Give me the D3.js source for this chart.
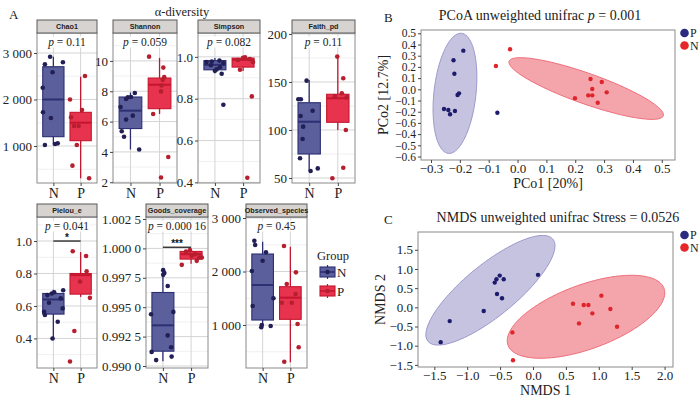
<!DOCTYPE html>
<html>
<head>
<meta charset="utf-8">
<script src="https://cdn.jsdelivr.net/npm/d3@7"></script>
<style>
  body { margin: 0; background: #fff; }
  svg { display: block; font-family: "Liberation Serif", "Times New Roman", serif; }
</style>
</head>
<body>
<svg id="fig" width="700" height="397"></svg>
<script>
// ---------- data: panel A (alpha diversity) ----------
const groups = ["N", "P"];
const metricNames = ["Chao1", "Shannon", "Simpson", "Faith_pd", "Pielou_e", "Goods_coverage", "Observed_species"];
const pValues = ["0.11", "0.059", "0.082", "0.11", "0.041", "0.000 16", "0.45"];

// box stats: [lower whisker, q1, median, q3, upper whisker]
const chao1BoxN = [1030, 1200, 2000, 2705, 2920];
const chao1BoxP = [305, 1114, 1501, 1724, 2490];
const shannonBoxN = [4.16, 5.54, 6.72, 7.62, 7.92];
const shannonBoxP = [6.5, 6.85, 8.43, 8.87, 10.2];
const simpsonBoxN = [0.922, 0.938, 0.962, 0.982, 0.994];
const simpsonBoxP = [0.932, 0.951, 0.986, 0.994, 0.998];
const faithBoxN = [57.3, 75, 108.6, 128.4, 152];
const faithBoxP = [100, 108, 133, 137.2, 176];
const pielouBoxN = [0.40, 0.550, 0.640, 0.677, 0.70];
const pielouBoxP = [0.656, 0.673, 0.79, 0.80, 0.932];
const goodsBoxN = [0.99041, 0.99126, 0.99346, 0.99625, 0.99815];
const goodsBoxP = [0.9987, 0.99909, 0.99951, 0.99974, 0.9999];
const observedBoxN = [970, 1093, 1748, 2327, 2557];
const observedBoxP = [303, 1106, 1511, 1716, 2463];

// jittered samples: [group position (1 = N, 2 = P), value]
const chao1PtsN = [[0.88, 2920], [0.69, 2757], [1.35, 2800], [0.97, 2585], [0.61, 2254], [0.62, 1724], [0.91, 1602], [0.69, 1020], [1.06, 1043], [1.16, 1057]];
const chao1PtsP = [[2.16, 2505], [1.61, 2000], [1.65, 1617], [2.05, 1774], [1.76, 1430], [1.93, 1430], [1.86, 1021], [1.70, 577], [2.31, 305]];
const shannonPtsN = [[0.66, 6.96], [0.85, 7.49], [1.02, 7.62], [1.15, 7.88], [0.85, 6.13], [1.08, 6.39], [0.70, 5.36], [0.78, 5.0], [1.30, 4.16], [0.91, 7.6]];
const shannonPtsP = [[1.64, 10.28], [2.13, 9.56], [2.16, 8.93], [2.07, 8.38], [2.05, 7.99], [1.78, 6.5], [2.30, 3.66], [2.05, 2.31], [2.11, 8.75]];
const simpsonPtsN = [[0.89, 0.978], [1.16, 0.982], [1.30, 0.970], [0.86, 0.96], [1.06, 0.94], [1.0, 0.933], [1.24, 0.919], [1.30, 0.771], [0.70, 0.975], [1.18, 0.95]];
const simpsonPtsP = [[2.07, 0.998], [2.24, 0.99], [1.89, 0.938], [2.31, 0.811], [2.15, 0.422], [1.82, 0.985], [2.35, 0.975], [2.0, 0.995]];
const faithPtsN = [[0.91, 151.4], [0.62, 132], [0.71, 132], [0.70, 114.6], [0.79, 103.5], [1.12, 120], [0.77, 90.6], [0.68, 70.5], [1.05, 57.3], [1.30, 60]];
const faithPtsP = [[1.98, 176.4], [2.19, 153.9], [2.14, 138.2], [2.31, 134], [2.28, 100], [2.19, 60.7], [1.81, 49.7], [1.90, 135]];
const pielouPtsN = [[0.66, 0.564], [0.69, 0.544], [0.84, 0.62], [0.78, 0.667], [0.94, 0.677], [1.03, 0.685], [1.34, 0.585], [1.36, 0.697], [1.27, 0.647], [1.16, 0.503], [0.97, 0.40]];
const pielouPtsP = [[1.71, 0.937], [2.2, 0.908], [2.22, 0.814], [1.98, 0.75], [2.34, 0.65], [1.77, 0.446], [1.61, 0.258]];
const goodsPtsN = [[1.01, 0.99815], [1.05, 0.9979], [1.01, 0.99775], [1.17, 0.9968], [0.58, 0.9944], [1.37, 0.9946], [1.17, 0.9926], [1.29, 0.9916], [0.60, 0.9912], [0.76, 0.9905], [1.31, 0.9908]];
const goodsPtsP = [[1.67, 0.9986], [1.82, 0.99974], [1.96, 0.99985], [2.14, 0.9995], [2.29, 0.99923], [2.20, 0.99894], [2.38, 0.99923], [2.02, 0.99937]];
const observedPtsN = [[0.70, 2576], [0.73, 2495], [1.12, 2359], [1.0, 2202], [0.61, 2009], [0.64, 1355], [1.39, 1499], [0.97, 1000], [0.95, 957], [1.29, 981]];
const observedPtsP = [[1.77, 2477], [2.20, 1984], [1.87, 1766], [1.69, 1417], [2.05, 1417], [2.19, 1579], [2.26, 1019], [2.30, 583], [1.78, 314]];

const chao1Ticks = [1000, 2000, 3000];
const shannonTicks = [2, 4, 6, 8, 10];
const simpsonTicks = [0.4, 0.6, 0.8, 1.0];
const faithTicks = [50, 100, 150, 200];
const pielouTicks = [0.4, 0.6, 0.8, 1.0];
const goodsTicks = [0.99, 0.9925, 0.995, 0.9975, 1.0, 1.0025];
const observedTicks = [1000, 2000, 3000];

// significance brackets: [value, stars]
const pielouSig = [1.0, "*"];
const goodsSig = [1.0001, "***"];

// ---------- data: panel B (PCoA) ----------
const pcoaTicksX = [-0.3, -0.2, -0.1, 0.0, 0.1, 0.2, 0.3, 0.4, 0.5];
const pcoaTicksY = [0.5, 0.4, 0.3, 0.2, 0.1, 0.0, -0.1, -0.2, -0.3, -0.4, -0.5, -0.6];
const pcoaLabelsY = ["0.5", "0.4", "0.3", "0.2", "0.1", "0.0", "\u22120.1", "\u22120.2", "\u22120.6", "\u22120.4", "\u22120.5", "\u22120.6"];
const pcoaP = [[-0.188, 0.345], [-0.222, 0.259], [-0.219, 0.139], [-0.203, -0.036], [-0.208, -0.051], [-0.255, -0.176], [-0.240, -0.185], [-0.217, -0.194], [-0.234, -0.223], [-0.070, -0.209]];
const pcoaN = [[-0.026, 0.357], [-0.075, 0.208], [0.253, 0.092], [0.292, 0.065], [0.259, 0.003], [0.309, -0.027], [0.199, -0.080], [0.245, -0.054], [0.259, -0.054], [0.278, -0.120]];
// ellipse: [centre, half major axis, half minor axis] in data units
const pcoaEllP = [[-0.217, -0.036], [0.023, 0.536], [0.0724, -0.0205]];
const pcoaEllN = [[0.238, 0.007], [0.267, -0.223], [-0.0204, 0.1616]];

// ---------- data: panel C (NMDS) ----------
const nmdsTicksX = [-1.5, -1.0, -0.5, 0.0, 0.5, 1.0, 1.5, 2.0];
const nmdsTicksY = [1.5, 1.0, 0.5, 0.0, -0.5, -1.0, -1.5];
const nmdsP = [[-1.403, -0.908], [-1.266, -0.359], [-0.749, -0.097], [-0.547, 0.348], [-0.471, 0.236], [-0.582, 0.644], [-0.556, 0.733], [-0.506, 0.827], [-0.445, 0.733], [0.076, 0.846]];
const nmdsN = [[-0.313, -0.654], [-0.304, -1.380], [0.608, 0.095], [0.771, 0.060], [0.842, 0.060], [1.039, 0.304], [0.902, -0.157], [1.176, -0.045], [0.699, -0.419], [1.277, -0.507]];
const nmdsEllP = [[-0.647, 0.445], [0.950, 1.330], [0.246, -0.521]];
const nmdsEllN = [[0.806, -0.246], [1.186, 0.741], [0.166, -0.788]];

// ---------- styles ----------
const colN = { fill: "#5b5f9b", stroke: "#2c2f72", pt: "#211f55" };
const colP = { fill: "#e8334f", stroke: "#c4162f", pt: "#b51f2e" };
const serif = '"Liberation Serif", "Times New Roman", serif';
const sans = '"Liberation Sans", Arial, sans-serif';

const svg = d3.select("#fig");

const fmtThousands = v => d3.format(",")(v).replace(/,/g, " ");
const fmtGoods = v => { const s = d3.format(".4f")(v); return s.slice(0, 5) + " " + s.slice(5); };

const boxPanels = [
  { name: metricNames[0], p: pValues[0], boxN: chao1BoxN, boxP: chao1BoxP, ptsN: chao1PtsN, ptsP: chao1PtsP, ticks: chao1Ticks, fmt: fmtThousands, x0: 37, x1: 97, top: 20, y0: 33, y1: 183, domain: [204, 3430] },
  { name: metricNames[1], p: pValues[1], boxN: shannonBoxN, boxP: shannonBoxP, ptsN: shannonPtsN, ptsP: shannonPtsP, ticks: shannonTicks, fmt: d3.format("d"), x0: 113, x1: 177, top: 20, y0: 33, y1: 183, domain: [1.95, 11.84] },
  { name: metricNames[2], p: pValues[2], boxN: simpsonBoxN, boxP: simpsonBoxP, ptsN: simpsonPtsN, ptsP: simpsonPtsP, ticks: simpsonTicks, fmt: d3.format(".1f"), x0: 198, x1: 260, top: 20, y0: 33, y1: 183, domain: [0.397, 1.114] },
  { name: metricNames[3], p: pValues[3], boxN: faithBoxN, boxP: faithBoxP, ptsN: faithPtsN, ptsP: faithPtsP, ticks: faithTicks, fmt: d3.format("d"), x0: 292, x1: 355, top: 20, y0: 33, y1: 183, domain: [44.8, 201] },
  { name: metricNames[4], p: pValues[4], boxN: pielouBoxN, boxP: pielouBoxP, ptsN: pielouPtsN, ptsP: pielouPtsP, ticks: pielouTicks, fmt: d3.format(".1f"), x0: 37, x1: 97, top: 204, y0: 217, y1: 368, domain: [0.218, 1.148], sig: pielouSig },
  { name: metricNames[5], p: pValues[5], boxN: goodsBoxN, boxP: goodsBoxP, ptsN: goodsPtsN, ptsP: goodsPtsP, ticks: goodsTicks, fmt: fmtGoods, x0: 146, x1: 208, top: 204, y0: 217, y1: 368, domain: [0.98983, 1.00267], sig: goodsSig },
  { name: metricNames[6], p: pValues[6], boxN: observedBoxN, boxP: observedBoxP, ptsN: observedPtsN, ptsP: observedPtsP, ticks: observedTicks, fmt: fmtThousands, x0: 246, x1: 307, top: 204, y0: 217, y1: 368, domain: [196, 3019] }
];

function drawBoxPanel(cfg) {
  const g = svg.append("g");
  const x = d3.scaleLinear().domain([0.4, 2.6]).range([cfg.x0, cfg.x1]);
  const y = d3.scaleLinear().domain(cfg.domain).range([cfg.y1, cfg.y0]);
  const unit = x(2) - x(1);

  // panel background + grid
  g.append("rect").attr("x", cfg.x0).attr("y", cfg.y0).attr("width", cfg.x1 - cfg.x0).attr("height", cfg.y1 - cfg.y0).attr("fill", "#fff");
  const step = cfg.ticks[1] - cfg.ticks[0];
  const minor = d3.range(cfg.ticks[0] - step / 2, cfg.domain[1], step).filter(v => v > cfg.domain[0]);
  g.selectAll(".minor").data(minor).join("line")
    .attr("x1", cfg.x0).attr("x2", cfg.x1).attr("y1", d => y(d)).attr("y2", d => y(d))
    .attr("stroke", "#ececec").attr("stroke-width", 0.8);
  g.selectAll(".major").data(cfg.ticks).join("line")
    .attr("x1", cfg.x0).attr("x2", cfg.x1).attr("y1", d => y(d)).attr("y2", d => y(d))
    .attr("stroke", "#d4d4d4").attr("stroke-width", 1);
  g.selectAll(".vgrid").data([1, 2]).join("line")
    .attr("x1", d => x(d)).attr("x2", d => x(d)).attr("y1", cfg.y0).attr("y2", cfg.y1)
    .attr("stroke", "#d4d4d4").attr("stroke-width", 1);

  // boxes
  [[cfg.boxN, colN, 1], [cfg.boxP, colP, 2]].forEach(([b, c, pos]) => {
    const cx = x(pos), bw = unit * 0.78;
    g.append("line").attr("x1", cx).attr("x2", cx).attr("y1", y(b[0])).attr("y2", y(b[4]))
      .attr("stroke", c.stroke).attr("stroke-width", 1.3);
    g.append("rect").attr("x", cx - bw / 2).attr("width", bw)
      .attr("y", y(b[3])).attr("height", Math.max(1, y(b[1]) - y(b[3])))
      .attr("fill", c.fill).attr("stroke", c.stroke).attr("stroke-width", 1.1);
    g.append("line").attr("x1", cx - bw / 2).attr("x2", cx + bw / 2).attr("y1", y(b[2])).attr("y2", y(b[2]))
      .attr("stroke", c.stroke).attr("stroke-width", 2);
  });

  // points
  [[cfg.ptsN, colN], [cfg.ptsP, colP]].forEach(([pts, c]) => {
    g.selectAll(null).data(pts).join("circle")
      .attr("cx", d => x(d[0])).attr("cy", d => y(d[1])).attr("r", 2.3)
      .attr("fill", c.pt);
  });

  // p label with white backing
  const pt = g.append("text").attr("x", (cfg.x0 + cfg.x1) / 2).attr("y", cfg.y0 + 12.5)
    .attr("text-anchor", "middle").attr("font-size", 11.5).attr("fill", "#222");
  pt.append("tspan").attr("font-style", "italic").text("p");
  pt.append("tspan").text(" = " + cfg.p);
  const bb = pt.node().getBBox();
  g.insert("rect", () => pt.node()).attr("x", bb.x - 1).attr("y", bb.y + 1).attr("width", bb.width + 2).attr("height", bb.height - 2).attr("fill", "#fff");

  if (cfg.sig) {
    const sy = y(cfg.sig[0]);
    g.append("line").attr("x1", x(1)).attr("x2", x(2)).attr("y1", sy).attr("y2", sy).attr("stroke", "#111").attr("stroke-width", 1.2);
    g.append("text").attr("x", (x(1) + x(2)) / 2).attr("y", sy - 0.5).attr("text-anchor", "middle")
      .attr("font-size", 10).attr("font-family", sans).attr("font-weight", "bold").attr("fill", "#111").text(cfg.sig[1]);
  }

  // border + strip
  g.append("rect").attr("x", cfg.x0).attr("y", cfg.y0).attr("width", cfg.x1 - cfg.x0).attr("height", cfg.y1 - cfg.y0)
    .attr("fill", "none").attr("stroke", "#8a8a8a").attr("stroke-width", 1);
  g.append("rect").attr("x", cfg.x0).attr("y", cfg.top).attr("width", cfg.x1 - cfg.x0).attr("height", cfg.y0 - cfg.top)
    .attr("fill", "#d6d3d0").attr("stroke", "#5a5a5a").attr("stroke-width", 1);
  g.append("text").attr("x", (cfg.x0 + cfg.x1) / 2).attr("y", (cfg.top + cfg.y0) / 2 + 2.6)
    .attr("text-anchor", "middle").attr("font-family", sans).attr("font-weight", "bold")
    .attr("font-size", 7.2).attr("fill", "#222").text(cfg.name);

  // y axis
  const ya = g.append("g").attr("transform", `translate(${cfg.x0},0)`)
    .call(d3.axisLeft(y).tickValues(cfg.ticks).tickFormat(cfg.fmt).tickSize(3).tickPadding(2));
  ya.select(".domain").remove();
  ya.selectAll(".tick line").attr("stroke", "#444");
  ya.selectAll("text").attr("font-family", serif).attr("font-size", 13).attr("fill", "#222");

  // x axis
  const xa = g.append("g").attr("transform", `translate(0,${cfg.y1})`)
    .call(d3.axisBottom(x).tickValues([1, 2]).tickFormat((d, i) => groups[i]).tickSize(3).tickPadding(2));
  xa.select(".domain").remove();
  xa.selectAll(".tick line").attr("stroke", "#444");
  xa.selectAll("text").attr("font-family", serif).attr("font-size", 14).attr("fill", "#222");
}

boxPanels.forEach(drawBoxPanel);

// panel A titles
svg.append("text").attr("x", 9).attr("y", 19).attr("font-size", 13).attr("fill", "#222").text("A");
svg.append("text").attr("x", 182).attr("y", 16).attr("text-anchor", "middle").attr("font-size", 12.5).attr("fill", "#222").text("\u03b1-diversity");

// group legend
const leg = svg.append("g");
leg.append("text").attr("x", 317).attr("y", 260).attr("font-size", 12.5).attr("fill", "#222").text("Group");
[[colN, 266, "N"], [colP, 285, "P"]].forEach(([c, ty, lab]) => {
  leg.append("line").attr("x1", 327.5).attr("x2", 327.5).attr("y1", ty - 1).attr("y2", ty + 13).attr("stroke", c.stroke).attr("stroke-width", 1.2);
  leg.append("rect").attr("x", 320).attr("y", ty + 1).attr("width", 15).attr("height", 10).attr("fill", c.fill).attr("stroke", c.stroke).attr("stroke-width", 1.1);
  leg.append("line").attr("x1", 320).attr("x2", 335).attr("y1", ty + 6).attr("y2", ty + 6).attr("stroke", c.stroke).attr("stroke-width", 1.6);
  leg.append("circle").attr("cx", 327.5).attr("cy", ty + 6).attr("r", 2.2).attr("fill", c.pt);
  leg.append("text").attr("x", 337).attr("y", ty + 11).attr("font-size", 13).attr("fill", "#222").text(lab);
});

// ---------- ordination panels ----------
const ptCol = { P: "#1d1b6b", N: "#e0242b" };
const ellCol = {
  P: { fill: "#c6c3e0", stroke: "#9d99cc" },
  N: { fill: "#f4a5ab", stroke: "#ef6f7b" }
};

function drawOrd(cfg) {
  const g = svg.append("g");
  const x = d3.scaleLinear().domain(cfg.xDomain).range([cfg.left, cfg.right]);
  const y = d3.scaleLinear().domain(cfg.yDomain).range([cfg.bottom, cfg.top]);

  g.append("rect").attr("x", cfg.left).attr("y", cfg.top).attr("width", cfg.right - cfg.left).attr("height", cfg.bottom - cfg.top)
    .attr("fill", "#fff");

  const ell = ([c, a, b]) => d3.range(0, 361, 4).map(t => {
    const r = t * Math.PI / 180;
    return [c[0] + a[0] * Math.cos(r) + b[0] * Math.sin(r), c[1] + a[1] * Math.cos(r) + b[1] * Math.sin(r)];
  });
  const line = d3.line().x(d => x(d[0])).y(d => y(d[1])).curve(d3.curveCardinalClosed);
  [[cfg.ellP, "P"], [cfg.ellN, "N"]].forEach(([e, k]) => {
    g.append("path").attr("d", line(ell(e))).attr("fill", ellCol[k].fill).attr("stroke", ellCol[k].stroke).attr("stroke-width", 1);
  });
  [[cfg.ptsP, "P"], [cfg.ptsN, "N"]].forEach(([pts, k]) => {
    g.selectAll(null).data(pts).join("circle")
      .attr("cx", d => x(d[0])).attr("cy", d => y(d[1])).attr("r", 2.2).attr("fill", ptCol[k]);
  });

  g.append("rect").attr("x", cfg.left).attr("y", cfg.top).attr("width", cfg.right - cfg.left).attr("height", cfg.bottom - cfg.top)
    .attr("fill", "none").attr("stroke", "#8a8a8a").attr("stroke-width", 1);

  const xa = g.append("g").attr("transform", `translate(0,${cfg.bottom})`)
    .call(d3.axisBottom(x).tickValues(cfg.ticksX).tickFormat(d => d3.format(".1f")(d).replace("-", "\u2212")).tickSize(3).tickPadding(1));
  xa.select(".domain").remove();
  xa.selectAll(".tick line").attr("stroke", "#444");
  xa.selectAll("text").attr("font-family", serif).attr("font-size", 13).attr("fill", "#222");

  const ya = g.append("g").attr("transform", `translate(${cfg.left},0)`)
    .call(d3.axisLeft(y).tickValues(cfg.ticksY).tickFormat((d, i) => cfg.labelsY ? cfg.labelsY[i] : d3.format(".1f")(d).replace("-", "\u2212")).tickSize(3).tickPadding(2));
  ya.select(".domain").remove();
  ya.selectAll(".tick line").attr("stroke", "#444");
  ya.selectAll("text").attr("font-family", serif).attr("font-size", cfg.yTickSize).attr("fill", "#222");

  svg.append("text").attr("x", (cfg.left + cfg.right) / 2).attr("y", cfg.bottom + 28).attr("text-anchor", "middle")
    .attr("font-size", 14).attr("fill", "#222").text(cfg.xLabel);
  svg.append("text").attr("transform", `translate(${cfg.left - 33},${(cfg.top + cfg.bottom) / 2}) rotate(-90)`).attr("text-anchor", "middle")
    .attr("font-size", 14).attr("fill", "#222").text(cfg.yLabel);

  // title
  const tt = svg.append("text").attr("x", cfg.titleX).attr("y", cfg.top - 10).attr("text-anchor", "middle").attr("font-size", 14).attr("fill", "#222");
  cfg.title.forEach(([s, it]) => tt.append("tspan").attr("font-style", it ? "italic" : "normal").text(s));
  svg.append("text").attr("x", 384).attr("y", cfg.top - 8).attr("font-size", 13).attr("fill", "#222").text(cfg.tag);

  // legend
  [["P", 0], ["N", 1]].forEach(([k, i]) => {
    svg.append("circle").attr("cx", 684.5).attr("cy", cfg.top + 3 + i * 12.5).attr("r", 4.3).attr("fill", k === "P" ? "#2a2a80" : "#e5262a");
    svg.append("text").attr("x", 690).attr("y", cfg.top + 7 + i * 12.5).attr("font-size", 12).attr("fill", "#222").text(k);
  });
}

drawOrd({
  tag: "B", title: [["PCoA unweighted unifrac ", false], ["p", true], [" = 0.001", false]], titleX: 540,
  left: 421, right: 675, top: 30, bottom: 160,
  xDomain: [-0.3347, 0.5458], yDomain: [-0.631, 0.5295],
  ticksX: pcoaTicksX, ticksY: pcoaTicksY, labelsY: pcoaLabelsY, yTickSize: 11.5,
  ptsP: pcoaP, ptsN: pcoaN, ellP: pcoaEllP, ellN: pcoaEllN,
  xLabel: "PCo1 [20%]", yLabel: "PCo2 [12.7%]"
});

drawOrd({
  tag: "C", title: [["NMDS unweighted unifrac Stress = 0.0526", false]], titleX: 558,
  left: 418, right: 673, top: 232, bottom: 367,
  xDomain: [-1.748, 2.128], yDomain: [-1.555, 1.963],
  ticksX: nmdsTicksX, ticksY: nmdsTicksY, yTickSize: 13,
  ptsP: nmdsP, ptsN: nmdsN, ellP: nmdsEllP, ellN: nmdsEllN,
  xLabel: "NMDS 1", yLabel: "NMDS 2"
});
</script>
</body>
</html>
